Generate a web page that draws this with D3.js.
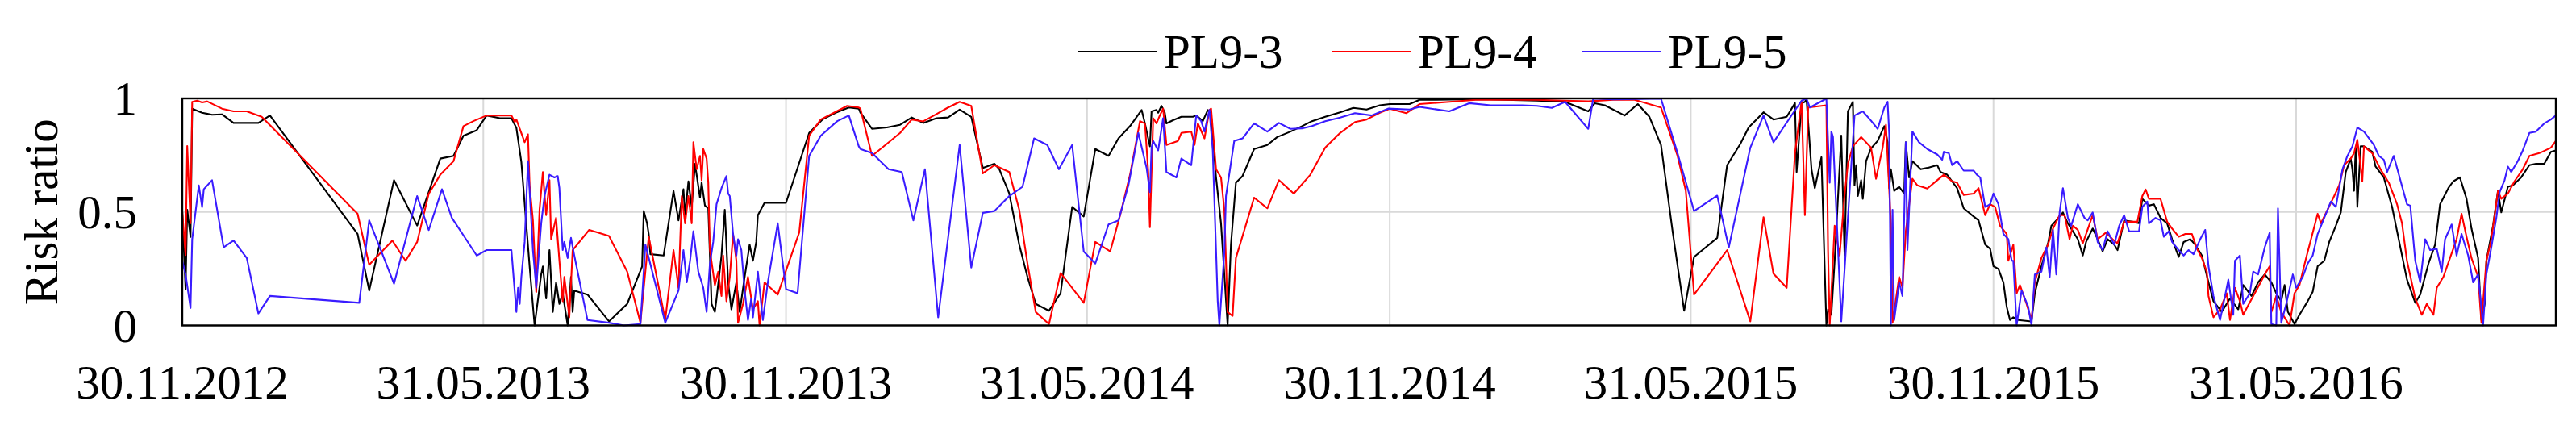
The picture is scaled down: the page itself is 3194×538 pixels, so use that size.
<!DOCTYPE html>
<html>
<head>
<meta charset="utf-8">
<script src="https://cdn.jsdelivr.net/npm/d3@7"></script>
<style>
  html, body { margin: 0; padding: 0; background: #fff; }
  svg { display: block; }
  text { font-family: "Liberation Serif", "Times New Roman", serif; fill: #000; }
</style>
</head>
<body>
<svg id="chart" width="3194" height="538"></svg>
<script>
// ---- DATA (x = days after 30.11.2012, y = risk ratio) ----
const startDate = "2012-11-30";
const endDate = "2016-11-04";
const seriesNames = ["PL9-3", "PL9-4", "PL9-5"];
const xTickDates = ["2012-11-30","2013-05-31","2013-11-30","2014-05-31","2014-11-30","2015-05-31","2015-11-30","2016-05-31"];
const xTickLabels = ["30.11.2012","31.05.2013","30.11.2013","31.05.2014","30.11.2014","31.05.2015","30.11.2015","31.05.2016"];
const yTicks = [0, 0.5, 1];
const yTickLabels = ["0", "0.5", "1"];

const pl93 = [[0,0.50],[2,0.16],[3,0.51],[5,0.39],[6,0.955],[12,0.937],[18,0.928],[24,0.93],[31,0.892],[46,0.892],[53,0.925],[106,0.403],[113,0.154],[128,0.64],[142,0.44],[156,0.735],[164,0.747],[170,0.836],[178,0.86],[184,0.925],[192,0.913],[199,0.913],
[202,0.87],[205,0.72],[210,0.26],[213,0],[217,0.225],[218,0.26],[220,0.119],[222,0.332],[224,0.06],[226,0.19],[228,0.095],[230,0.142],[233,0],[235,0.214],[236,0.06],[237,0.154],[245,0.136],[258,0.018],[269,0.095],[278,0.26],[279,0.504],[281,0.45],[282,0.403],[283,0.314],[291,0.308],[297,0.593],[300,0.463],[303,0.6],[304,0.486],[306,0.635],[308,0.522],[310,0.712],[313,0.563],[314,0.63],[316,0.528],[318,0.516],[320,0.095],[322,0.06],[323,0.119],[326,0.308],[328,0.51],[330,0.19],[332,0.071],[335,0.19],[337,0.06],[340,0.214],[343,0.356],[345,0.285],[347,0.368],[348,0.486],[352,0.54],[365,0.54],[379,0.848],[387,0.907],[395,0.937],[403,0.96],[409,0.955],
[410,0.937],[417,0.866],[426,0.872],[434,0.884],[441,0.916],[448,0.892],[456,0.913],[463,0.916],[470,0.951],[477,0.919],[484,0.694],[491,0.712],[494,0.688],[500,0.581],[506,0.356],[511,0.214],[516,0.095],[524,0.065],[531,0.142],[538,0.522],[545,0.48],[552,0.777],[560,0.747],[566,0.824],[573,0.878],[580,0.949],[582,0.89],[585,0.789],[586,0.943],[589,0.949],[590,0.937],[592,0.967],[594,0.937],[595,0.89],[599,0.904],[604,0.919],[611,0.919],
[613,0.925],[617,0.9],[620,0.949],[622,0.931],[625,0.652],[628,0.45],[632,0],[634,0.356],[637,0.629],[641,0.658],[648,0.777],[656,0.795],[662,0.83],[670,0.854],[677,0.878],[683,0.9],[691,0.919],[700,0.939],[708,0.958],[716,0.951],[724,0.97],[730,0.975],[742,0.975],[748,0.994],[758,0.994],[774,0.996],[790,0.996],[819,0.99],
[836,0.985],[850,0.943],[854,0.979],[860,0.97],[872,0.925],[880,0.975],[887,0.919],[894,0.795],[901,0.415],[908,0.065],[914,0.302],[928,0.386],[934,0.706],[942,0.8],[947,0.872],[956,0.939],[962,0.907],[970,0.919],[975,0.979],[976,0.676],[979,0.979],[981,0.985],[982,0.996],[985,0.688],[987,0.605],[991,0.741],[994,0],[995,0.071],[997,0.047],[999,0.285],[1003,0.836],[1005,0.308],[1007,0.943],[1010,0.985],[1011,0.617],[1012,0.706],[1013,0.57],[1015,0.64],[1016,0.558],[1018,0.724],[1021,0.78],
[1025,0.813],[1029,0.878],[1031,0.807],[1032,0.605],[1033,0.688],[1035,0.593],[1038,0.611],[1041,0.581],[1042,0.807],[1044,0.652],[1046,0.724],[1051,0.688],[1055,0.694],[1061,0.706],[1063,0.676],[1067,0.664],[1073,0.605],[1077,0.516],[1083,0.48],[1086,0.463],[1090,0.356],[1093,0.338],[1095,0.261],[1098,0.249],[1101,0.19],[1103,0.083],[1105,0.024],[1107,0.036],[1110,0.024],[1118,0.018],[1120,0.142],[1124,0.261],[1128,0.362],[1130,0.439],[1133,0.463],[1137,0.498],[1140,0.45],[1143,0.415],[1146,0.38],[1149,0.308],[1151,0.368],[1155,0.427],[1158,0.38],[1161,0.326],[1164,0.38],[1168,0.356],[1170,0.332],[1174,0.463],[1179,0.457],[1183,0.45],[1185,0.558],[1189,0.528],[1192,0.534],[1196,0.474],[1200,0.45],[1203,0.38],[1207,0.302],[1210,0.368],[1214,0.38],[1217,0.356],[1221,0.308],[1225,0.19],[1228,0.107],
[1233,0.06],[1238,0.119],[1243,0.071],[1246,0.178],[1251,0.13],[1255,0.19],[1259,0.225],[1263,0.19],[1266,0.142],[1269,0.107],[1271,0.178],[1273,0.06],[1277,0.006],[1280,0.047],[1285,0.107],[1288,0.148],[1291,0.261],[1295,0.285],[1298,0.368],[1302,0.439],[1305,0.498],[1308,0.676],[1311,0.735],[1312,0.688],[1313,0.593],[1314,0.783],[1315,0.522],[1317,0.789],[1319,0.789],[1324,0.765],[1326,0.7],[1331,0.652],[1336,0.522],[1341,0.344],[1345,0.202],[1350,0.1],[1353,0.136],[1358,0.273],[1362,0.356],[1365,0.534],[1370,0.605],[1373,0.635],[1377,0.652],[1381,0.558],[1384,0.427],[1388,0.297],[1390,0.024],[1392,0.095],[1393,0.285],[1397,0.439],[1400,0.593],[1402,0.498],[1406,0.611],[1409,0.617],[1414,0.652],[1419,0.706],[1423,0.712],[1428,0.712],[1432,0.765],[1435,0.771]];

const pl94 = [[0,0.5],[2,0.31],[3,0.79],[5,0.45],[6,0.985],[9,0.99],[12,0.982],[15,0.987],[24,0.955],[31,0.943],[39,0.943],[48,0.919],[106,0.492],[113,0.267],[127,0.374],[135,0.285],[142,0.368],[149,0.58],[156,0.664],[164,0.724],[170,0.878],[176,0.9],[184,0.925],[199,0.925],[201,0.896],
[202,0.907],[207,0.807],[209,0.842],[210,0.617],[212,0.463],[214,0.148],[216,0.51],[218,0.676],[220,0.486],[222,0.64],[223,0.38],[226,0.474],[228,0.285],[230,0.107],[231,0.214],[234,0.036],[236,0.332],[246,0.421],[258,0.394],[269,0.237],[277,0.012],[282,0.391],[292,0.024],[297,0.332],[300,0.166],[302,0.57],[304,0.45],[306,0.57],[308,0.45],[309,0.807],[311,0.688],[313,0.747],[314,0.64],[315,0.777],[317,0.735],[318,0.629],[319,0.332],[322,0.178],[324,0.237],[326,0.13],[327,0.308],[329,0.107],[331,0.214],[333,0.403],[335,0.285],[336,0.012],[339,0.095],[342,0.214],[345,0.071],[348,0.107],[349,0],[352,0.19],[360,0.136],[373,0.41],[379,0.836],[386,0.907],[394,0.937],[402,0.967],[409,0.96],
[410,0.955],[417,0.747],[426,0.8],[434,0.848],[441,0.907],[448,0.899],[456,0.931],[463,0.96],[470,0.985],[477,0.967],[484,0.67],[491,0.706],[500,0.676],[506,0.51],[511,0.273],[516,0.059],[524,0.006],[531,0.231],[545,0.1],[552,0.368],[561,0.326],[567,0.486],[573,0.664],[579,0.9],[582,0.89],[584,0.676],[585,0.433],[587,0.913],[589,0.89],[591,0.925],[593,0.955],[595,0.795],[602,0.813],[604,0.848],[610,0.854],[612,0.795],[614,0.89],
[618,0.824],[621,0.949],[622,0.955],[625,0.688],[628,0.652],[630,0.51],[632,0.059],[635,0.042],[637,0.297],[648,0.563],[656,0.516],[663,0.64],[672,0.581],[682,0.664],[691,0.783],[700,0.848],[709,0.896],[716,0.907],[724,0.937],[730,0.955],[740,0.935],[748,0.975],[766,0.985],[782,0.994],[819,0.994],
[836,0.99],[850,0.987],[865,0.994],[878,0.994],[894,0.96],[904,0.747],[909,0.593],[914,0.136],[934,0.332],[948,0.018],[956,0.477],[962,0.228],[970,0.166],[975,0.759],[979,0.987],[981,0.486],[983,0.96],[994,0.97],[995,0.332],[996,0],[999,0.439],[1002,0.308],[1005,0.575],[1007,0.712],[1010,0.789],[1015,0.83],[1021,0.783],
[1024,0.646],[1028,0.783],[1030,0.884],[1033,0.45],[1034,0.012],[1038,0.214],[1040,0.166],[1042,0.415],[1046,0.646],[1049,0.617],[1055,0.603],[1061,0.64],[1065,0.664],[1070,0.635],[1073,0.629],[1077,0.575],[1083,0.581],[1086,0.605],[1090,0.486],[1093,0.534],[1096,0.522],[1099,0.439],[1103,0.403],[1104,0.285],[1107,0.356],[1109,0.142],[1111,0.178],[1115,0.095],[1118,0.024],[1120,0.19],[1124,0.297],[1128,0.356],[1131,0.427],[1135,0.486],[1138,0.486],[1141,0.38],[1143,0.439],[1146,0.421],[1149,0.362],[1151,0.403],[1155,0.486],[1158,0.38],[1163,0.409],[1167,0.38],[1170,0.362],[1174,0.457],[1182,0.457],[1185,0.57],[1187,0.599],[1189,0.558],[1196,0.558],[1200,0.457],[1203,0.427],[1207,0.391],[1211,0.403],[1215,0.403],[1218,0.338],[1221,0.297],[1224,0.237],[1225,0.13],[1228,0.036],
[1232,0.071],[1236,0.142],[1238,0.024],[1241,0.166],[1244,0.107],[1246,0.047],[1249,0.089],[1253,0.142],[1259,0.225],[1262,0.261],[1263,0.059],[1266,0.13],[1269,0.059],[1274,0],[1277,0.142],[1280,0.178],[1284,0.297],[1287,0.38],[1291,0.492],[1293,0.45],[1297,0.51],[1301,0.57],[1304,0.617],[1307,0.706],[1311,0.735],[1313,0.759],[1315,0.818],[1318,0.635],[1319,0.789],[1324,0.759],[1329,0.688],[1334,0.629],[1339,0.534],[1342,0.45],[1345,0.285],[1350,0.119],[1354,0.047],[1357,0.095],[1361,0.047],[1363,0.166],[1367,0.214],[1371,0.297],[1375,0.38],[1378,0.492],[1381,0.391],[1384,0.297],[1388,0.214],[1390,0.012],[1393,0.285],[1396,0.38],[1400,0.593],[1402,0.558],[1406,0.581],[1410,0.635],[1415,0.688],[1419,0.747],[1425,0.759],[1432,0.783],[1435,0.813]];

const pl95 = [[0,0.285],[2,0.225],[5,0.077],[6,0.38],[10,0.617],[12,0.522],[13,0.6],[18,0.64],[25,0.344],[31,0.374],[39,0.297],[46,0.053],[53,0.13],[107,0.1],[113,0.463],[128,0.184],[142,0.57],[149,0.42],[157,0.6],[163,0.474],[170,0.397],[178,0.308],[184,0.332],[199,0.332],
[202,0.06],[203,0.166],[204,0.095],[205,0.214],[207,0.368],[209,0.724],[212,0.332],[214,0.166],[217,0.45],[219,0.57],[222,0.664],[225,0.652],[227,0.658],[228,0.605],[230,0.332],[231,0.368],[233,0.297],[235,0.386],[237,0.308],[245,0.024],[258,0.012],[267,0],[277,0.006],[280,0.356],[292,0.012],[300,0.154],[303,0.332],[305,0.19],[307,0.285],[309,0.415],[312,0.237],[315,0.166],[317,0.06],[319,0.273],[321,0.368],[323,0.534],[326,0.605],[329,0.658],[330,0.581],[331,0.57],[333,0.403],[335,0.308],[336,0.38],[338,0.332],[340,0.154],[342,0.024],[344,0.119],[345,0.036],[348,0.237],[351,0.024],[354,0.19],[360,0.45],[365,0.16],[372,0.142],[379,0.747],[386,0.836],[396,0.9],[403,0.925],[409,0.789],
[410,0.777],[417,0.759],[427,0.688],[435,0.676],[442,0.463],[449,0.688],[457,0.036],[470,0.795],[477,0.255],[484,0.496],[491,0.504],[500,0.57],[508,0.611],[515,0.824],[523,0.795],[530,0.688],[538,0.795],[545,0.326],[552,0.273],[560,0.445],[566,0.463],[572,0.617],[578,0.848],[583,0.694],[585,0.587],[586,0.783],[587,0.813],[590,0.771],[593,0.913],[595,0.676],[601,0.652],[604,0.735],[610,0.706],[613,0.925],
[616,0.9],[618,0.854],[621,0.949],[623,0.771],[626,0.107],[627,0],[630,0.32],[631,0.57],[636,0.813],[641,0.824],[648,0.89],[656,0.854],[663,0.892],[670,0.866],[677,0.868],[683,0.878],[691,0.9],[700,0.916],[709,0.935],[719,0.925],[729,0.955],[742,0.951],[748,0.963],[766,0.943],[778,0.979],[791,0.97],[810,0.97],[819,0.967],
[828,0.958],[836,0.985],[850,0.866],[853,0.999],[865,0.996],[894,0.999],[904,0.759],[914,0.504],[928,0.572],[935,0.344],[948,0.783],[956,0.925],[962,0.807],[974,0.937],[979,0.99],[982,0.999],[984,0.96],[994,0.999],[996,0.629],[997,0.854],[998,0.83],[1003,0.018],[1007,0.474],[1011,0.925],[1016,0.943],[1021,0.902],
[1025,0.866],[1029,0.96],[1031,0.985],[1032,0.842],[1033,0],[1034,0.51],[1035,0.024],[1038,0.19],[1040,0.13],[1042,0.807],[1043,0.332],[1046,0.854],[1050,0.807],[1055,0.777],[1061,0.753],[1064,0.73],[1065,0.765],[1068,0.759],[1070,0.706],[1073,0.724],[1077,0.682],[1083,0.682],[1085,0.664],[1087,0.652],[1090,0.522],[1093,0.534],[1095,0.581],[1098,0.534],[1101,0.403],[1104,0.38],[1106,0.285],[1107,0.285],[1109,0],[1112,0.154],[1116,0.083],[1118,0],[1120,0.225],[1124,0.237],[1127,0.344],[1129,0.214],[1131,0.421],[1133,0.225],[1135,0.498],[1137,0.605],[1140,0.474],[1142,0.439],[1146,0.534],[1150,0.474],[1152,0.463],[1155,0.498],[1158,0.368],[1161,0.332],[1164,0.415],[1168,0.356],[1171,0.439],[1174,0.486],[1177,0.415],[1183,0.415],[1185,0.522],[1188,0.546],[1189,0.45],[1193,0.474],[1196,0.463],[1198,0.391],[1201,0.415],[1203,0.368],[1207,0.332],[1210,0.308],[1213,0.332],[1216,0.314],[1220,0.38],[1223,0.421],[1225,0.261],[1228,0.13],
[1232,0.024],[1235,0.13],[1237,0.202],[1240,0.047],[1241,0.285],[1244,0.308],[1246,0.095],[1250,0.142],[1252,0.237],[1255,0.225],[1259,0.344],[1262,0.409],[1263,0.006],[1266,0],[1267,0.516],[1269,0.012],[1272,0.095],[1276,0.225],[1278,0.166],[1282,0.214],[1285,0.273],[1288,0.308],[1291,0.403],[1295,0.474],[1299,0.546],[1302,0.522],[1306,0.688],[1309,0.747],[1312,0.789],[1315,0.872],[1319,0.854],[1325,0.795],[1328,0.747],[1331,0.73],[1333,0.676],[1337,0.747],[1341,0.64],[1345,0.534],[1347,0.528],[1350,0.285],[1353,0.19],[1356,0.38],[1359,0.332],[1363,0.338],[1366,0.237],[1368,0.38],[1372,0.445],[1375,0.308],[1378,0.403],[1382,0.308],[1385,0.19],[1388,0.225],[1391,0],[1393,0.225],[1396,0.344],[1399,0.474],[1401,0.587],[1404,0.64],[1406,0.7],[1408,0.676],[1412,0.724],[1415,0.771],[1419,0.848],[1423,0.854],[1428,0.89],[1432,0.907],[1435,0.925]];

const seriesData = [pl93, pl94, pl95];
const seriesColors = ["#000000", "#ff0000", "#3a1cff"];

// ---- LAYOUT ----
const M = { left: 226, right: 3169, top: 122, bottom: 403.5 };
const FONT = 59;
const svg = d3.select("#chart");
const parse = d3.utcParse("%Y-%m-%d");
const t0 = parse(startDate);

const x = d3.scaleUtc().domain([t0, parse(endDate)]).range([M.left, M.right]);
const y = d3.scaleLinear().domain([0, 1]).range([M.bottom, M.top]);

// gridlines
const grid = svg.append("g").attr("stroke", "#d9d9d9").attr("stroke-width", 2);
grid.selectAll("line.v").data(xTickDates.map(parse)).join("line")
  .attr("x1", d => x(d)).attr("x2", d => x(d)).attr("y1", M.top).attr("y2", M.bottom);
grid.selectAll("line.h").data(yTicks).join("line")
  .attr("x1", M.left).attr("x2", M.right).attr("y1", d => y(d)).attr("y2", d => y(d));

// clip
svg.append("defs").append("clipPath").attr("id", "clip").append("rect")
  .attr("x", M.left).attr("y", M.top - 2).attr("width", M.right - M.left).attr("height", M.bottom - M.top + 4);

const line = d3.line()
  .x(d => x(d3.utcDay.offset(t0, d[0])))
  .y(d => y(d[1]));

svg.append("g").attr("clip-path", "url(#clip)")
  .selectAll("path").data(seriesData).join("path")
  .attr("d", line)
  .attr("fill", "none")
  .attr("stroke", (d, i) => seriesColors[i])
  .attr("stroke-width", 2.1)
  .attr("stroke-linejoin", "round");

// frame
svg.append("rect").attr("x", M.left).attr("y", M.top)
  .attr("width", M.right - M.left).attr("height", M.bottom - M.top)
  .attr("fill", "none").attr("stroke", "#000").attr("stroke-width", 2.4);

// y tick labels
svg.append("g").selectAll("text").data(yTicks).join("text")
  .attr("x", 170).attr("y", d => y(d) + 0.34 * FONT)
  .attr("text-anchor", "end").attr("font-size", FONT)
  .text((d, i) => yTickLabels[i]);

// x tick labels
svg.append("g").selectAll("text").data(xTickDates).join("text")
  .attr("x", d => x(parse(d))).attr("y", 494)
  .attr("text-anchor", "middle").attr("font-size", FONT)
  .text((d, i) => xTickLabels[i]);

// y axis title
svg.append("text")
  .attr("transform", `translate(71, ${(M.top + M.bottom) / 2}) rotate(-90)`)
  .attr("text-anchor", "middle").attr("font-size", FONT)
  .text("Risk ratio");

// legend
const legendX = [1336, 1651, 1961];
const lg = svg.append("g").selectAll("g").data(seriesNames).join("g")
  .attr("transform", (d, i) => `translate(${legendX[i]}, 0)`);
lg.append("line").attr("x1", 0).attr("x2", 99).attr("y1", 64).attr("y2", 64)
  .attr("stroke", (d, i) => seriesColors[i]).attr("stroke-width", 2.2);
lg.append("text").attr("x", 107).attr("y", 84).attr("font-size", FONT).text(d => d);
</script>
</body>
</html>
